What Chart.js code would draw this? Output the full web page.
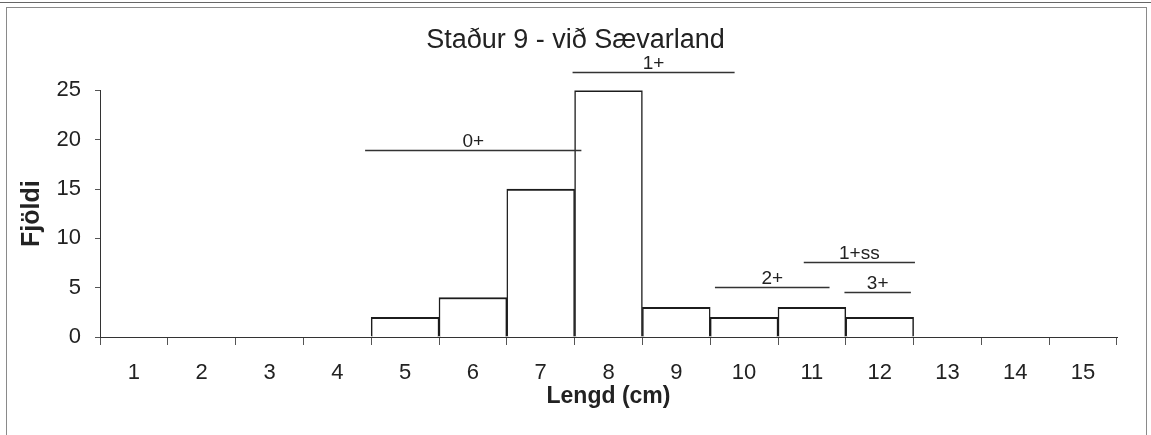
<!DOCTYPE html>
<html lang="is">
<head>
    <meta charset="UTF-8">
    <title>Staður 9 - við Sævarland</title>
    <style>
        body {
    margin: 0;
    padding: 0;
    background: #fff;
    width: 1151px;
    height: 435px;
    overflow: hidden;
    position: relative;
}

.topline {
    position: absolute;
    left: 0;
    top: 2px;
    width: 1151px;
    border-top: 1px solid #666;
}

.frame {
    position: absolute;
    left: 6px;
    top: 7px;
    width: 1139px;
    height: 460px;
    border: 1px solid #8a8a8a;
}

#chart {
    position: absolute;
    left: 0;
    top: 0;
}
    </style>
</head>
<body>
    <div class="topline"></div>
    <div class="frame"></div>
    <canvas id="chart" width="1151" height="435"></canvas>
    <script src="https://cdn.jsdelivr.net/npm/chart.js"></script>
    <script>
// length classes (cm) and number of fish in each
const lengths = ['1', '2', '3', '4', '5', '6', '7', '8', '9', '10', '11', '12', '13', '14', '15'];
const counts = [0, 0, 0, 0, 2, 4, 15, 25, 3, 2, 3, 2, 0, 0, 0];

// age group markers: name, span in cm, height on the count axis
const groupNames = ['0+', '1+', '2+', '1+ss', '3+'];
const groupFrom = [4.41, 7.47, 9.57, 10.88, 11.48];
const groupTo = [7.60, 9.86, 11.26, 12.52, 12.46];
const groupLevel = [19, 26.9, 5.1, 7.6, 4.55];

const yMin = 0;
const yMax = 25;
const yStep = 5;

const fontFamily = "'Liberation Sans', Arial, sans-serif";

// draws the age group lines with their labels
const ageGroups = {
    id: 'ageGroups',
    afterDatasetsDraw(chart) {
        const ctx = chart.ctx;
        const x = chart.scales.x;
        const y = chart.scales.y;
        ctx.save();
        ctx.strokeStyle = '#333';
        ctx.lineWidth = 1.3;
        ctx.fillStyle = '#222';
        ctx.font = '19px ' + fontFamily;
        ctx.textAlign = 'center';
        ctx.textBaseline = 'alphabetic';
        for (let i = 0; i < groupNames.length; i++) {
            const x1 = x.getPixelForValue(groupFrom[i] - 1);
            const x2 = x.getPixelForValue(groupTo[i] - 1);
            const yy = Math.round(y.getPixelForValue(groupLevel[i])) + 0.5;
            ctx.beginPath();
            ctx.moveTo(x1, yy);
            ctx.lineTo(x2, yy);
            ctx.stroke();
            ctx.fillText(groupNames[i], (x1 + x2) / 2, yy - 4);
        }
        ctx.restore();
    }
};

const chart = new Chart(document.getElementById('chart'), {
    type: 'bar',
    data: {
        labels: lengths,
        datasets: [{
            data: counts,
            backgroundColor: '#fff',
            borderColor: '#1c1c1c',
            borderWidth: { top: 2, left: 1.5, right: 1.5, bottom: 0 },
            borderSkipped: 'start',
            barPercentage: 1,
            categoryPercentage: 1
        }]
    },
    options: {
        responsive: false,
        animation: false,
        layout: {
            padding: 0
        },
        plugins: {
            legend: { display: false },
            tooltip: { enabled: false },
            title: {
                display: true,
                text: 'Staður 9 - við Sævarland',
                color: '#222',
                font: { family: fontFamily, size: 27, weight: 'normal' },
                padding: { top: 24, bottom: 34 }
            }
        },
        scales: {
            x: {
                offset: true,
                afterFit(scale) {
                    scale.height = 98;
                    // keep the plot off the right edge, title stays centred on the page
                    scale.paddingRight = 34;
                },
                grid: {
                    offset: true,
                    drawOnChartArea: false,
                    drawTicks: true,
                    tickLength: 8,
                    color: '#555'
                },
                border: { display: true, color: '#333', width: 1 },
                ticks: {
                    color: '#222',
                    font: { family: fontFamily, size: 22 },
                    padding: 15,
                    maxRotation: 0,
                    autoSkip: false
                },
                title: {
                    display: true,
                    text: 'Lengd (cm)',
                    color: '#222',
                    font: { family: fontFamily, size: 23, weight: 'bold' },
                    padding: { top: 0, bottom: 25 }
                }
            },
            y: {
                min: yMin,
                max: yMax,
                afterFit(scale) { scale.width = 100; },
                grid: {
                    drawOnChartArea: false,
                    drawTicks: true,
                    tickLength: 5,
                    color: '#555'
                },
                border: { display: true, color: '#333', width: 1 },
                ticks: {
                    stepSize: yStep,
                    color: '#222',
                    font: { family: fontFamily, size: 22 },
                    padding: 14
                },
                title: {
                    display: true,
                    text: 'Fjöldi',
                    color: '#222',
                    font: { family: fontFamily, size: 25, weight: 'bold' },
                    padding: { top: 17, bottom: 0 }
                }
            }
        }
    },
    plugins: [ageGroups]
});
    </script>
</body>
</html>
